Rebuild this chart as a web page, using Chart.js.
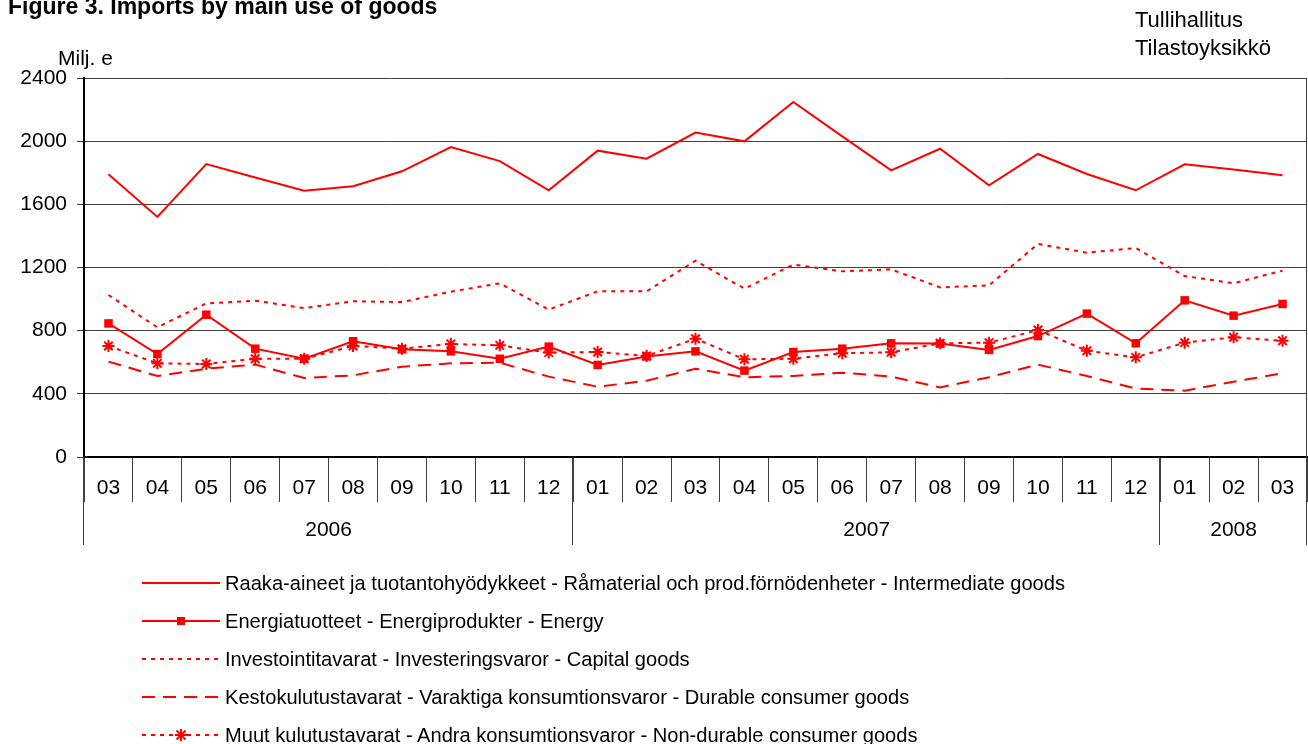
<!DOCTYPE html>
<html>
<head>
<meta charset="utf-8">
<script src="https://cdn.jsdelivr.net/npm/chart.js@4/dist/chart.umd.min.js"></script>
<style>
  body { margin: 0; background: #fff; font-family: "Liberation Sans", Arial, sans-serif; color: #000; }
  #wrap { position: relative; width: 1308px; height: 744px; overflow: hidden; }
  #chart { position: absolute; left: 0; top: 0; }
  .txt { position: absolute; white-space: nowrap; line-height: 1; }
  #title { left: 8px; top: -5px; font-size: 23px; font-weight: bold; }
  #unit { left: 58px; top: 47px; font-size: 21px; }
  #src { left: 1135px; top: 6px; font-size: 22px; line-height: 28px; }
  .leg { position: absolute; left: 141px; height: 20px; display: flex; align-items: center; }
  .leg svg { width: 82px; height: 16px; margin-right: 2px; }
  .leg span { font-size: 20.1px; white-space: nowrap; }
</style>
</head>
<body>
<div id="wrap">
  <canvas id="chart" width="1308" height="744"></canvas>
  <div class="txt" id="title">Figure 3. Imports by main use of goods</div>
  <div class="txt" id="unit">Milj. e</div>
  <div class="txt" id="src">Tullihallitus<br>Tilastoyksikkö</div>
  <div id="legend"></div>
</div>
<script>
// month labels and year groups
const months = ["03", "04", "05", "06", "07", "08", "09", "10", "11", "12",
  "01", "02", "03", "04", "05", "06", "07", "08", "09", "10", "11", "12",
  "01", "02", "03"];
const yearLabels = ["2006", "2007", "2008"];
const yearSpans = [10, 12, 3];

// series, Milj. e
const intermediate = [1790, 1520, 1855, 1770, 1686, 1714, 1809, 1963, 1874, 1689,
  1940, 1889, 2054, 1999, 2248, 2030, 1815, 1952, 1720, 1919, 1792, 1689,
  1853, 1820, 1784];
const energy = [846, 652, 901, 686, 622, 733, 682, 669, 622, 699,
  583, 637, 669, 547, 665, 686, 720, 718, 678, 766, 908, 720,
  992, 895, 969];
const capital = [1026, 821, 973, 990, 943, 986, 981, 1047, 1100, 933,
  1049, 1049, 1243, 1066, 1218, 1176, 1188, 1074, 1087, 1349, 1294, 1323,
  1146, 1100, 1180];
const durable = [604, 513, 559, 585, 500, 517, 572, 593, 597, 509,
  445, 483, 559, 505, 513, 534, 509, 441, 505, 585, 513, 433,
  420, 477, 530];
const nondurable = [703, 593, 589, 622, 622, 703, 686, 716, 707, 661,
  665, 640, 749, 619, 622, 657, 663, 720, 724, 804, 673, 631,
  724, 758, 736];

const yTicks = [0, 400, 800, 1200, 1600, 2000, 2400];

const seriesNames = [
  "Raaka-aineet ja tuotantohyödykkeet - Råmaterial och prod.förnödenheter - Intermediate goods",
  "Energiatuotteet - Energiprodukter - Energy",
  "Investointitavarat - Investeringsvaror - Capital goods",
  "Kestokulutustavarat - Varaktiga konsumtionsvaror - Durable consumer goods",
  "Muut kulutustavarat - Andra konsumtionsvaror - Non-durable consumer goods",
];

const RED = "#ff0000";
const FONT = "'Liberation Sans', Arial, sans-serif";

function lineSet(label, data, extra) {
  return Object.assign({
    label: label,
    data: data,
    borderColor: RED,
    backgroundColor: RED,
    borderWidth: 2,
    pointRadius: 0,
    tension: 0,
    fill: false,
  }, extra);
}

// year groups under the month axis + right frame line
const yearAxis = {
  id: "yearAxis",
  afterDraw(chart) {
    const ctx = chart.ctx;
    const x = chart.scales.x;
    const area = chart.chartArea;
    const half = (x.getPixelForValue(1) - x.getPixelForValue(0)) / 2;
    ctx.save();
    ctx.strokeStyle = "#404040";
    ctx.lineWidth = 1;
    ctx.beginPath();
    ctx.moveTo(Math.round(area.right) - 0.5, area.top);
    ctx.lineTo(Math.round(area.right) - 0.5, area.bottom);
    ctx.stroke();
    ctx.font = "21px " + FONT;
    ctx.fillStyle = "#000";
    ctx.textAlign = "center";
    ctx.textBaseline = "middle";
    let start = 0;
    const edges = [x.getPixelForValue(0) - half];
    yearSpans.forEach((n, i) => {
      const left = x.getPixelForValue(start) - half;
      const right = x.getPixelForValue(start + n - 1) + half;
      edges.push(right);
      ctx.fillText(yearLabels[i], (left + right) / 2, 530);
      start += n;
    });
    ctx.beginPath();
    edges.forEach((e) => {
      const px = Math.round(e) - 0.5;
      ctx.moveTo(px, area.bottom);
      ctx.lineTo(px, 545);
    });
    ctx.stroke();
    ctx.restore();
  },
};

new Chart(document.getElementById("chart"), {
  type: "line",
  data: {
    labels: months,
    datasets: [
      lineSet(seriesNames[0], intermediate, {}),
      lineSet(seriesNames[1], energy, { pointStyle: "rect", pointRadius: 6, pointBorderWidth: 0 }),
      lineSet(seriesNames[2], capital, { borderDash: [4, 5] }),
      lineSet(seriesNames[3], durable, { borderDash: [13, 8] }),
      lineSet(seriesNames[4], nondurable, {
        borderDash: [4, 5], pointStyle: "star", pointRadius: 6, pointBorderWidth: 2,
      }),
    ],
  },
  options: {
    responsive: false,
    animation: false,
    devicePixelRatio: 1,
    layout: { autoPadding: false, padding: { left: 0, right: 1, top: 78, bottom: 0 } },
    plugins: { legend: { display: false }, tooltip: { enabled: false } },
    scales: {
      x: {
        offset: true,
        afterFit(s) {
          s.height = 744 - 457;
          s.paddingLeft = 0;
          s.paddingRight = 0;
        },
        grid: { offset: true, drawOnChartArea: false, tickLength: 45, color: "#404040", lineWidth: 1 },
        border: { color: "#000", width: 2 },
        ticks: { color: "#000", font: { family: FONT, size: 21 }, padding: -26, maxRotation: 0, autoSkip: false },
      },
      y: {
        min: 0,
        max: 2400,
        afterFit(s) { s.width = 84; },
        afterBuildTicks(s) { s.ticks = yTicks.map((v) => ({ value: v })); },
        grid: { color: "#404040", lineWidth: 1, tickLength: 7 },
        border: { color: "#000", width: 2 },
        ticks: {
          color: "#000",
          font: { family: FONT, size: 21 },
          padding: 10,
          callback: (v) => String(v),
        },
      },
    },
  },
  plugins: [yearAxis],
});

// legend, drawn as line samples beside the names
const legendStyles = [
  { dash: "", mark: "" },
  { dash: "", mark: "rect" },
  { dash: "4 5", mark: "" },
  { dash: "13 8", mark: "" },
  { dash: "4 5", mark: "star" },
];
const legendRows = [583, 621, 659, 697, 735];
const legend = document.getElementById("legend");
seriesNames.forEach((name, i) => {
  const st = legendStyles[i];
  let mark = "";
  if (st.mark === "rect") mark = '<rect x="36" y="4" width="8" height="8" fill="' + RED + '"/>';
  if (st.mark === "star") {
    mark = '<g stroke="' + RED + '" stroke-width="2">' +
      '<line x1="40" y1="2" x2="40" y2="14"/><line x1="34" y1="8" x2="46" y2="8"/>' +
      '<line x1="35.5" y1="3.5" x2="44.5" y2="12.5"/><line x1="44.5" y1="3.5" x2="35.5" y2="12.5"/></g>';
  }
  const row = document.createElement("div");
  row.className = "leg";
  row.style.top = (legendRows[i] - 10) + "px";
  row.innerHTML = '<svg viewBox="0 0 82 16"><line x1="1" y1="8" x2="79" y2="8" stroke="' + RED +
    '" stroke-width="2" stroke-dasharray="' + st.dash + '"/>' + mark + "</svg><span>" + name + "</span>";
  legend.appendChild(row);
});
</script>
</body>
</html>
